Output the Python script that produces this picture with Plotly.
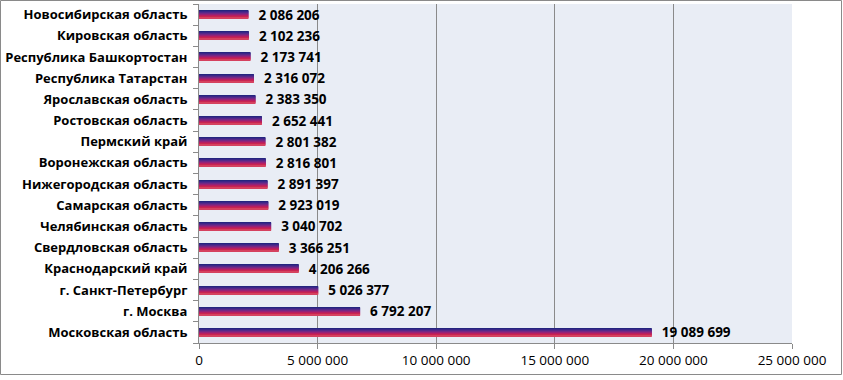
import plotly.graph_objects as go

regions = [
    "Московская область", "г. Москва", "г. Санкт-Петербург", "Краснодарский край",
    "Свердловская область", "Челябинская область", "Самарская область",
    "Нижегородская область", "Воронежская область", "Пермский край",
    "Ростовская область", "Ярославская область", "Республика Татарстан",
    "Республика Башкортостан", "Кировская область", "Новосибирская область",
]
values = [19089699, 6792207, 5026377, 4206266, 3366251, 3040702, 2923019,
          2891397, 2816801, 2801382, 2652441, 2383350, 2316072, 2173741,
          2102236, 2086206]
x_ticks = [0, 5000000, 10000000, 15000000, 20000000, 25000000]

# vertical gradient strips (top -> bottom)
strip_colors = ["#25257F", "#3B2688", "#55288A", "#742784", "#952277",
                "#B51E62", "#C82452", "#D5415F"]
bar_w = 0.38
n = len(strip_colors)
sw = bar_w / n

fig = go.Figure()
for i, c in enumerate(strip_colors):
    off = bar_w / 2 - (i + 1) * sw
    fig.add_trace(go.Bar(
        y=regions, x=values, orientation="h", marker_color=c,
        marker_line_width=0, width=sw * 1.05, offset=off,
        hoverinfo="skip", showlegend=False,
    ))
# labels
fig.add_trace(go.Bar(
    y=regions, x=values, orientation="h", width=bar_w, offset=-bar_w / 2,
    marker_color="rgba(0,0,0,0)", marker_line_width=0,
    text=["  " + f"{v:,}".replace(",", " ") for v in values],
    textposition="outside", cliponaxis=False, constraintext="none",
    textfont=dict(family="Open Sans", size=13.5, color="black", weight="bold"),
    showlegend=False,
))

fig.update_layout(
    width=843, height=380, barmode="overlay",
    margin=dict(l=199, r=51, t=4, b=37, autoexpand=False),
    paper_bgcolor="white", plot_bgcolor="#E9EDF5",
    separators=", ",
    font=dict(family="Open Sans", color="black"),
    xaxis=dict(range=[0, 25000000], tickvals=x_ticks, tickformat=",d",
               showgrid=True, gridcolor="#8A8A8A", gridwidth=1,
               showline=True, linecolor="#8A8A8A", ticks="outside",
               ticklen=5, tickcolor="#8A8A8A", zeroline=False,
               automargin=False,
               tickfont=dict(size=13.5, color="black")),
    yaxis=dict(type="category", showline=True, linecolor="#8A8A8A",
               ticks="outside", tickson="boundaries", ticklen=5,
               tickcolor="#8A8A8A", showgrid=False, automargin=False,
               ticklabelstandoff=8,
               tickfont=dict(size=13, color="black", weight="bold")),
)
pw = 843 - 199 - 51
ph = 380 - 4 - 37
fig.add_shape(type="rect", xref="paper", yref="paper",
              x0=-198.5 / pw, x1=(843 - 199 - 1.5) / pw,
              y0=-31.5 / ph, y1=(ph + 3.5) / ph,
              line=dict(color="#8A8A8A", width=1), fillcolor="rgba(0,0,0,0)",
              layer="below")
fig.write_html("out.html", config={"displayModeBar": False},
               post_script="document.body.style.margin='0px';"
                           "document.body.style.overflow='hidden';")
